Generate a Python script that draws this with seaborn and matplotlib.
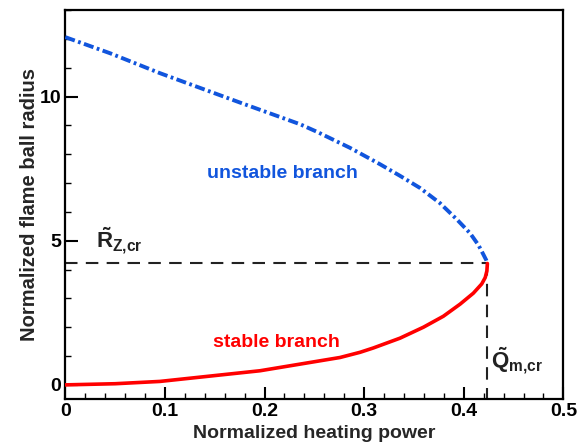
import matplotlib
matplotlib.use("Agg")
import matplotlib.pyplot as plt
import seaborn as sns
import pandas as pd
from matplotlib.ticker import MultipleLocator

# ---- data ----
q_unstable = [0.0, 0.045, 0.095, 0.1754, 0.2356, 0.2524, 0.2858, 0.316, 0.336, 0.356,
              0.3762, 0.393, 0.4063, 0.4147, 0.4197, 0.4225, 0.4237]
r_unstable = [12.06, 11.5, 10.81, 9.79, 9.04, 8.78, 8.22, 7.65, 7.25, 6.83,
              6.30, 5.74, 5.26, 4.85, 4.52, 4.33, 4.21]

q_stable = [0.0, 0.05, 0.095, 0.1955, 0.2758, 0.2959, 0.3092, 0.336, 0.3595, 0.3795,
            0.3963, 0.4096, 0.418, 0.4215, 0.4232, 0.4237]
r_stable = [0.0, 0.04, 0.12, 0.49, 0.95, 1.13, 1.28, 1.62, 2.0, 2.38,
            2.80, 3.18, 3.50, 3.72, 3.95, 4.21]

q_cr = 0.4237
r_cr = 4.21

x_ticks = [0, 0.1, 0.2, 0.3, 0.4, 0.5]
x_tick_labels = ["0", "0.1", "0.2", "0.3", "0.4", "0.5"]
y_ticks = [0, 5, 10]
y_tick_labels = ["0", "5", "10"]

sns.set_style("white")
plt.rcParams["font.family"] = ["Liberation Sans", "DejaVu Sans"]
plt.rcParams["font.weight"] = "bold"
plt.rcParams["mathtext.fontset"] = "custom"
plt.rcParams["mathtext.rm"] = "Liberation Sans:bold"
plt.rcParams["mathtext.bf"] = "Liberation Sans:bold"
plt.rcParams["mathtext.it"] = "Liberation Sans:bold"

fig = plt.figure(figsize=(5.87, 4.45), dpi=100)
ax = fig.add_axes([0.1112, 0.1027, 0.8486, 0.8748])

df_u = pd.DataFrame({"q": q_unstable, "r": r_unstable})
df_s = pd.DataFrame({"q": q_stable, "r": r_stable})

# dashed critical lines
ax.plot([0, q_cr], [r_cr, r_cr], color="#222222", lw=1.5, ls=(0, (6, 4)), zorder=2)
ax.plot([q_cr, q_cr], [r_cr, -0.5], color="#222222", lw=1.5, ls=(0, (6, 4)), zorder=2)

sns.lineplot(data=df_s, x="q", y="r", sort=False, estimator=None, ax=ax,
             color="#ff0000", lw=2.6, zorder=3)
sns.lineplot(data=df_u, x="q", y="r", sort=False, estimator=None, ax=ax,
             color="#1155dd", lw=2.8, zorder=4)
ax.lines[-1].set_dashes([2.6, 0.9, 0.7, 0.9])

ax.set_xlim(0, 0.5)
ax.set_ylim(-0.5, 13)
ax.set_xticks(x_ticks)
ax.set_xticklabels(x_tick_labels)
ax.set_yticks(y_ticks)
ax.set_yticklabels(y_tick_labels)
ax.xaxis.set_minor_locator(MultipleLocator(0.02))
ax.yaxis.set_minor_locator(MultipleLocator(1))
ax.tick_params(which="major", direction="in", length=9, width=1.5, labelsize=14,
               bottom=True, left=True, top=False, right=False, colors="black")
ax.tick_params(axis="x", which="major", pad=3)
ax.tick_params(axis="y", which="major", pad=3)
ax.tick_params(which="minor", direction="in", length=4.5, width=1.0,
               bottom=True, left=True, top=False, right=False, colors="black")
for lab in ax.get_xticklabels() + ax.get_yticklabels():
    lab.set_fontweight("bold")

for sp in ax.spines.values():
    sp.set_visible(True)
    sp.set_color("black")
    sp.set_linewidth(1.6)

ax.set_xlabel("Normalized heating power", fontsize=14, fontweight="bold", labelpad=3)
ax.set_ylabel("Normalized flame ball radius", fontsize=14.5, fontweight="bold", labelpad=0)

ax.text(0.2176, 7.33, "unstable branch", color="#1155dd", fontsize=14,
        fontweight="bold", ha="center", va="center")
ax.text(0.2118, 1.47, "stable branch", color="#ff0000", fontsize=14,
        fontweight="bold", ha="center", va="center")

ax.text(0.031, 5.0, r"$\mathbf{\tilde{R}_{Z{,}cr}}$", fontsize=16, ha="left", va="center",
        color="#222222")
ax.text(0.427, 0.85, r"$\mathbf{\tilde{Q}_{m{,}cr}}$", fontsize=16, ha="left", va="center",
        color="#222222")

fig.savefig("out.png", dpi=100)
